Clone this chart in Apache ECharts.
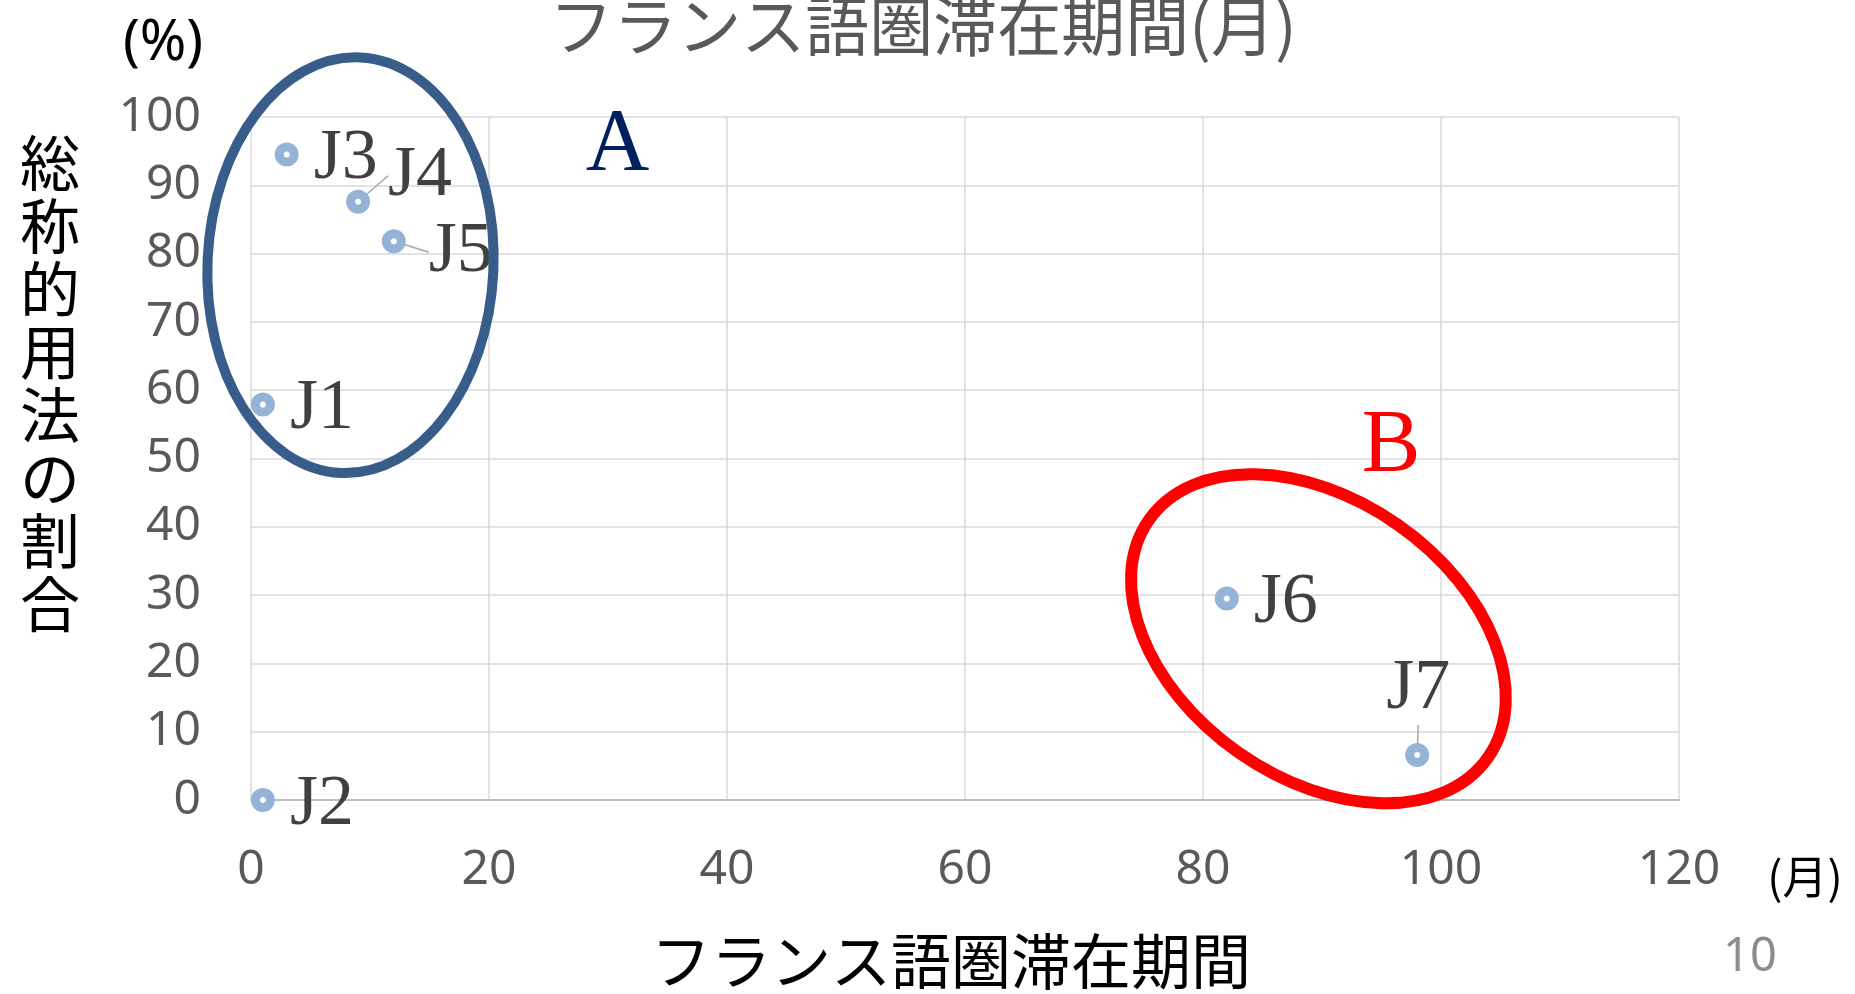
<!DOCTYPE html>
<html>
<head>
<meta charset="utf-8">
<script src="https://cdn.jsdelivr.net/npm/echarts@6/dist/echarts.min.js"></script>
<style>
  html, body { margin: 0; padding: 0; background: #fff; }
  #main { width: 1855px; height: 994px; }
</style>
</head>
<body>
<div id="main"></div>
<script>
// 学習者ごとの値 (フランス語圏滞在期間[月], 総称的用法の割合[%])
var names = ['J1', 'J2', 'J3', 'J4', 'J5', 'J6', 'J7'];
var months = [1, 1, 3, 9, 12, 82, 98];
var ratios = [57.9, 0, 94.5, 87.6, 81.8, 29.5, 6.6];

// 軸の目盛り
var xMin = 0, xMax = 120, xStep = 20;
var yMin = 0, yMax = 100, yStep = 10;

// ラベルをずらす点 (引き出し線つき)
var labelShift = { J4: [3, -26], J5: [8, 11], J7: [-58, -66] };

var sans = "'Noto Sans', 'Noto Sans CJK JP', sans-serif";
var cjk = "'Noto Sans CJK JP', sans-serif";
var serif = "'Liberation Serif', 'DejaVu Serif', serif";

var points = names.map(function (n, i) {
  var item = { name: n, value: [months[i], ratios[i]] };
  if (labelShift[n]) item.labelLine = { show: true };
  return item;
});

var chart = echarts.init(document.getElementById('main'));

var option = {
  animation: false,
  grid: { left: 251, right: 176, top: 117, bottom: 194 },
  xAxis: {
    type: 'value',
    min: xMin, max: xMax, interval: xStep,
    axisLine: { show: true, lineStyle: { color: '#bfbfbf', width: 2 } },
    axisTick: { show: false },
    axisLabel: { margin: 46, fontSize: 48, color: '#595959', fontFamily: sans },
    splitLine: { show: true, lineStyle: { color: '#d9d9d9', width: 1.5 } }
  },
  yAxis: {
    type: 'value',
    min: yMin, max: yMax, interval: yStep,
    axisLine: { show: false },
    axisTick: { show: false },
    axisLabel: { margin: 50, fontSize: 48, color: '#595959', fontFamily: sans },
    splitLine: { show: true, lineStyle: { color: '#d9d9d9', width: 1.5 } }
  },
  series: [
    {
      type: 'scatter',
      data: points,
      symbol: 'circle',
      symbolSize: 15,
      itemStyle: { color: '#ffffff', borderColor: '#95b3d7', borderWidth: 9, opacity: 1 },
      label: {
        show: true,
        position: 'right',
        distance: 15,
        formatter: '{b}',
        fontFamily: serif,
        fontSize: 72,
        color: '#404040'
      },
      labelLine: { show: false, lineStyle: { color: '#a6a6a6', width: 1.5 } },
      labelLayout: function (p) {
        var s = labelShift[names[p.dataIndex]];
        return s ? { dx: s[0], dy: s[1] } : { dy: 5 };
      },
      z: 3
    }
  ]
};

chart.setOption(option);

function px(x, y) {
  return chart.convertToPixel({ gridIndex: 0 }, [x, y]);
}

// 注記 (楕円とグループ名)
var ringA = px(8.36, 78.3);
var ringB = px(89.7, 23.6);
var textA = px(30.8, 95.8);
var textB = px(95.8, 51.7);

chart.setOption({
  graphic: [
    {
      type: 'text', x: 923, y: 26,
      style: { text: 'フランス語圏滞在期間(月)', fontSize: 64, fontFamily: cjk, fill: '#595959',
               align: 'center', verticalAlign: 'middle' }
    },
    {
      type: 'text', x: 163, y: 44,
      style: { text: '(%)', fontSize: 56, fontFamily: sans, fill: '#000',
               align: 'center', verticalAlign: 'middle' }
    },
    {
      type: 'text', x: 50, y: 384,
      style: { text: '総\n称\n的\n用\n法\nの\n割\n合', fontSize: 60, lineHeight: 63,
               fontFamily: cjk, fill: '#000', align: 'center', verticalAlign: 'middle' }
    },
    {
      type: 'text', x: 951, y: 961,
      style: { text: 'フランス語圏滞在期間', fontSize: 60, fontFamily: cjk, fill: '#000',
               align: 'center', verticalAlign: 'middle' }
    },
    {
      type: 'text', x: 1805, y: 877,
      style: { text: '(月)', fontSize: 45, fontFamily: cjk, fill: '#000',
               align: 'center', verticalAlign: 'middle' }
    },
    {
      type: 'text', x: 1750, y: 958,
      style: { text: '10', fontSize: 47, fontFamily: sans, fill: '#8c8c8c',
               align: 'center', verticalAlign: 'middle' }
    },
    {
      type: 'ellipse', x: ringA[0], y: ringA[1], rotation: -0.046, z: 10,
      shape: { cx: 0, cy: 0, rx: 143, ry: 208 },
      style: { fill: 'none', stroke: '#385d8a', lineWidth: 10 }
    },
    {
      type: 'ellipse', x: ringB[0], y: ringB[1], rotation: -0.611, z: 10,
      shape: { cx: 0, cy: 0, rx: 207, ry: 139 },
      style: { fill: 'none', stroke: '#ff0000', lineWidth: 12 }
    },
    {
      type: 'text', x: textA[0], y: textA[1], z: 10,
      style: { text: 'A', fontSize: 88, fontFamily: serif, fill: '#002060',
               align: 'center', verticalAlign: 'middle' }
    },
    {
      type: 'text', x: textB[0], y: textB[1], z: 10,
      style: { text: 'B', fontSize: 88, fontFamily: serif, fill: '#ff0000',
               align: 'center', verticalAlign: 'middle' }
    }
  ]
});
</script>
</body>
</html>
